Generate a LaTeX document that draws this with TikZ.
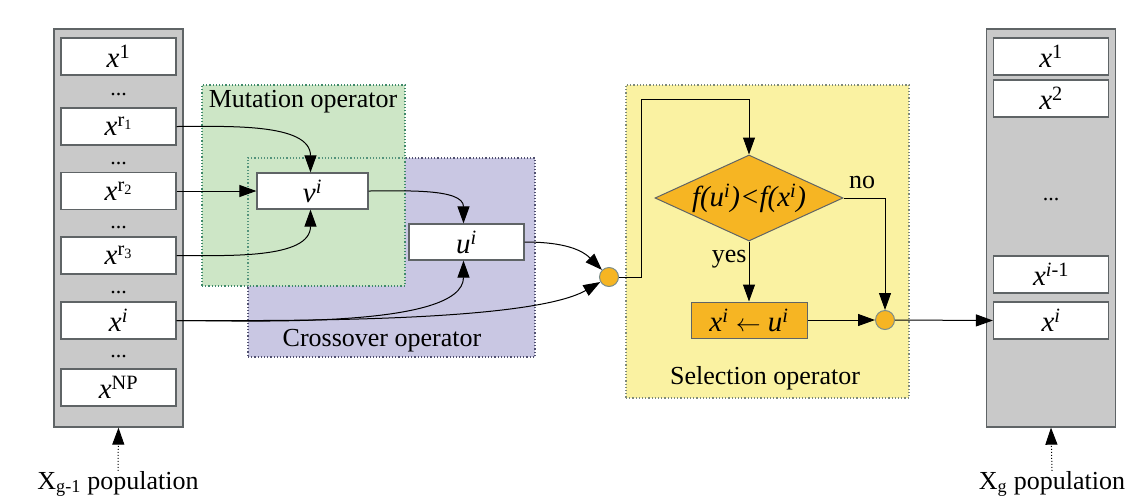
\documentclass[tikz,border=0pt]{standalone}
\usepackage{fontspec}
\setmainfont{Liberation Serif}
\usetikzlibrary{arrows.meta,shapes.geometric,calc}

\definecolor{colfill}{HTML}{C9C9C9}
\definecolor{coledge}{HTML}{5F6466}
\definecolor{mutfill}{HTML}{CDE6C6}
\definecolor{mutedge}{HTML}{3F8A6A}
\definecolor{crossfill}{HTML}{C9C7E3}
\definecolor{crossedge}{HTML}{505070}
\definecolor{selfill}{HTML}{FAF2A2}
\definecolor{seledge}{HTML}{7E8A7A}
\definecolor{gold}{HTML}{F6B523}
\definecolor{goldedge}{HTML}{7A8C8A}

\newcommand{\bigtext}{\fontsize{26}{30}\selectfont}
\newcommand{\celltext}{\fontsize{29}{32}\selectfont}
\newcommand{\ix}{\textit{x}}

\begin{document}
\begin{tikzpicture}[x=1pt,y=-1pt,
  popcol/.style={draw=coledge, fill=colfill, line width=1.3pt, inner sep=0pt,
    minimum width=129pt, minimum height=398pt},
  cell/.style={draw=coledge, fill=white, line width=1.2pt, inner sep=0pt,
    minimum width=115pt, minimum height=37pt, font=\celltext},
  dots/.style={font=\fontsize{22}{24}\selectfont, inner sep=0pt, anchor=base},
  region/.style={dotted, line width=1.2pt, inner sep=0pt},
  caption/.style={font=\bigtext, inner sep=0pt},
  tip/.style={-{Triangle[length=17pt,width=12pt]}},
  link/.style={line width=1pt, tip},
  joint/.style={circle, draw=goldedge, fill=gold, minimum size=19pt, inner sep=0pt, line width=1pt},
  goldbox/.style={draw=coledge, fill=gold, line width=1pt, inner sep=0pt, font=\celltext}
]
\useasboundingbox (0,0) rectangle (1140,501);

% ---- population X_{g-1}
\node[popcol] (lcol) at (118.5,228) {};
\node[cell] (c1)  at (118.5,56.5)  {\ix\textsuperscript{1}};
\node[dots] (d1)  at (118.5,95)    {...};
\node[cell] (cr1) at (118.5,126.5) {\ix\textsuperscript{r\textsubscript{1}}};
\node[dots] (d2)  at (118.5,164)   {...};
\node[cell] (cr2) at (118.5,191)   {\ix\textsuperscript{r\textsubscript{2}}};
\node[dots] (d3)  at (118.5,228)   {...};
\node[cell] (cr3) at (118.5,255.5) {\ix\textsuperscript{r\textsubscript{3}}};
\node[dots] (d4)  at (118.5,293)   {...};
\node[cell] (ci)  at (118.5,320.5) {\ix\textsuperscript{\textit{i}}};
\node[dots] (d5)  at (118.5,357)   {...};
\node[cell] (cnp) at (118.5,387.5) {\ix\textsuperscript{NP}};
\node[caption] (lpop) at (118,484) {X\textsubscript{g-1} population};
\draw[line width=1pt, dotted, tip] (lpop.north) -- (lcol.south);

% ---- population X_g
\node[popcol] (rcol) at (1051,228) {};
\node[cell] (r1)  at (1051,56.5)  {\ix\textsuperscript{1}};
\node[cell] (r2)  at (1051,98.5)  {\ix\textsuperscript{2}};
\node[dots] (rd)  at (1051,200)   {...};
\node[cell] (rim) at (1051,274.5) {\ix\textsuperscript{\textit{i}-1}};
\node[cell] (ri)  at (1051,320.5) {\ix\textsuperscript{\textit{i}}};
\node[caption] (rpop) at (1052,484) {X\textsubscript{g} population};
\draw[line width=1pt, dotted, tip] (rpop.north) -- (rcol.south);

% ---- operator regions
\node[region, draw=crossedge, fill=crossfill, minimum width=287pt, minimum height=199pt] (cross) at (391.5,257.5) {};
\node[region, draw=mutedge, fill=mutfill, minimum width=203pt, minimum height=201pt] (mut) at (303.5,185.5) {};
\draw[region, draw=mutedge!85!crossfill] (248,286) |- (405,158);
\node[region, draw=seledge, fill=selfill, minimum width=283pt, minimum height=313pt] (sel) at (767.5,241.5) {};
\node[caption] (mutlab)   at (303,102) {Mutation operator};
\node[caption] (crosslab) at (382,341) {Crossover operator};
\node[caption] (sellab)   at (765,378) {Selection operator};

% ---- mutation and crossover
\node[cell, minimum width=111pt, minimum height=36pt] (vi) at (312.5,191) {\textit{v}\textsuperscript{\textit{i}}};
\node[cell, minimum width=115pt, minimum height=36pt] (ui) at (466.5,242) {\textit{u}\textsuperscript{\textit{i}}};
\node[joint] (j1) at (609,277) {};

\draw[link] (cr1.east) to[out=0,in=90,looseness=0.9] ([xshift=-2pt]vi.north);
\draw[link] (cr2.east) -- (vi.west);
\draw[link] (cr3.east) to[out=0,in=-90,looseness=0.9] ([xshift=-2pt]vi.south);
\draw[link] (vi.east) to[out=0,in=90,looseness=0.9] ([xshift=-3pt]ui.north);
\draw[link] (ci.east) to[out=0,in=-90,looseness=0.6] ([xshift=-3pt]ui.south);
\draw[link] (ci.east) to[out=0,in=210,looseness=0.5] (j1.210);
\draw[link] (ui.east) to[out=0,in=135,looseness=1] (j1.135);

% ---- selection
\node[diamond, draw=coledge, fill=gold, line width=1pt, inner sep=0pt,
      minimum width=188pt, minimum height=86pt] (dia) at (749,198) {};
\node[font=\celltext\itshape, inner sep=0pt] (cond) at (dia.center)
      {f(u\textsuperscript{i})<f(x\textsuperscript{i})};
\node[goldbox, minimum width=116pt, minimum height=36pt] (upd) at (749,320)
      {\ix\textsuperscript{\textit{i}} $\leftarrow$ \textit{u}\textsuperscript{\textit{i}}};
\node[joint] (j2) at (885,320) {};
\coordinate (turn) at (641,99);

\draw[line width=1pt] (j1.east) -| (turn);
\draw[link] (turn) -| (dia.north);
\draw[link] (dia.south) -- node[caption, pos=0.3, left=2pt] (yes) {yes} (upd.north);
\draw[link] (dia.east) -| (j2.north);
\node[caption] (no) at (862,182) {no};
\draw[link] (upd.east) -- (j2.west);
\draw[link] (j2.east) -- (ri.west);
\end{tikzpicture}
\end{document}
